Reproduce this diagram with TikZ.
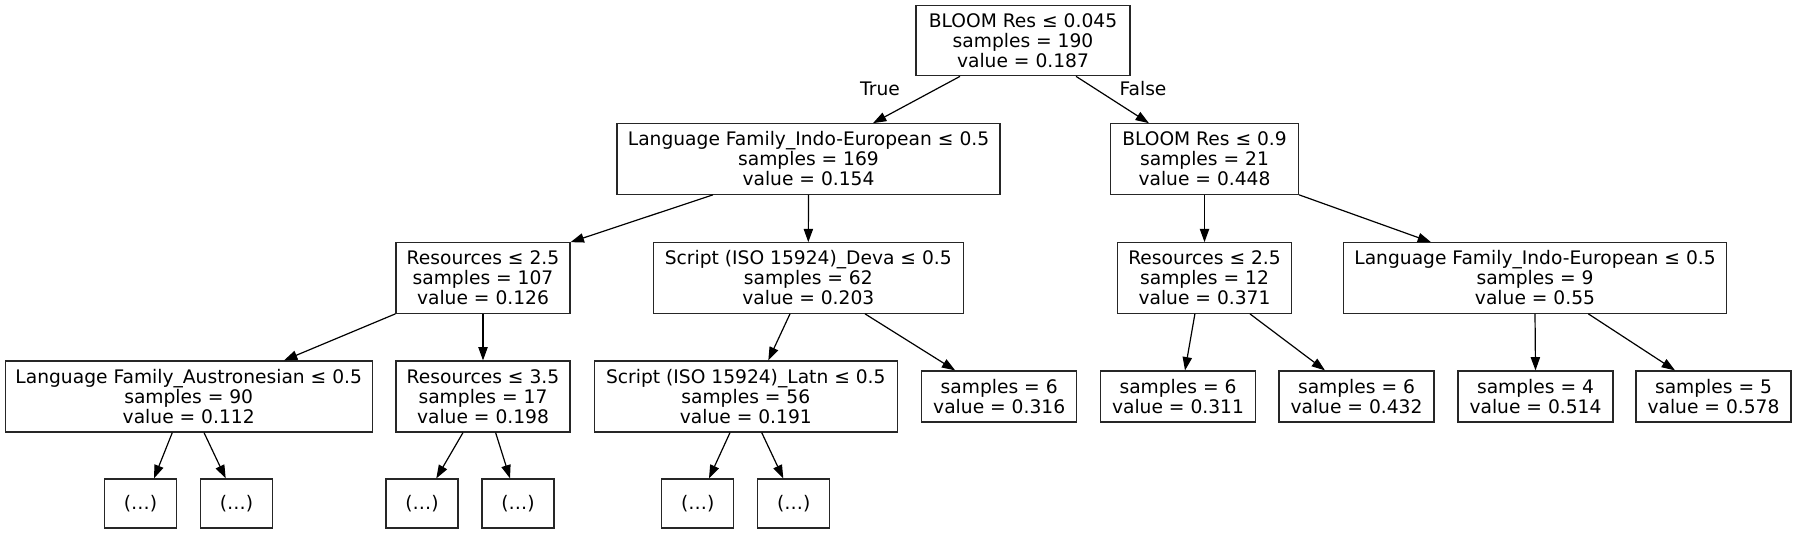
\documentclass[tikz,border=0pt]{standalone}
\usepackage{fontspec}
\setmainfont{DejaVu Sans}
\usetikzlibrary{arrows.meta,calc}
\begin{document}
\begin{tikzpicture}[x=0.75pt,y=-0.75pt,
  every node/.style={font=\fontsize{14pt}{15pt}\selectfont},
  box/.style={draw=black!85,line width=0.9pt,fill=white,rectangle,inner sep=0pt,align=center},
  b3/.style={box,minimum height=70.5*0.75pt},
  b2/.style={box,minimum height=51*0.75pt,minimum width=155*0.75pt},
  b1/.style={box,minimum height=49*0.75pt,minimum width=72*0.75pt},
  lbl/.style={inner sep=0pt},
  arr/.style={draw=black,line width=0.9pt,-{Triangle[length=10pt,width=7pt]}}]
\path[fill=white,use as bounding box] (0,0) rectangle (1797,533);
% level 0
\node[b3,minimum width=214*0.75pt] (root) at (1023,40.5) {BLOOM Res ≤ 0.045\\samples = 190\\value = 0.187};
% level 1
\node[b3,minimum width=383*0.75pt] (L1) at (808.5,159) {Language Family\_Indo-European ≤ 0.5\\samples = 169\\value = 0.154};
\node[b3,minimum width=188*0.75pt] (R1) at (1204.5,159) {BLOOM Res ≤ 0.9\\samples = 21\\value = 0.448};
% level 2
\node[b3,minimum width=174*0.75pt] (L2a) at (483,278) {Resources ≤ 2.5\\samples = 107\\value = 0.126};
\node[b3,minimum width=310*0.75pt] (L2b) at (808.3,278) {Script (ISO 15924)\_Deva ≤ 0.5\\samples = 62\\value = 0.203};
\node[b3,minimum width=174*0.75pt] (R2a) at (1204.5,278) {Resources ≤ 2.5\\samples = 12\\value = 0.371};
\node[b3,minimum width=383*0.75pt] (R2b) at (1535,278) {Language Family\_Indo-European ≤ 0.5\\samples = 9\\value = 0.55};
% level 3
\node[b3,minimum width=367*0.75pt,minimum height=71*0.75pt] (L3a) at (188.7,396.5) {Language Family\_Austronesian ≤ 0.5\\samples = 90\\value = 0.112};
\node[b3,minimum width=174*0.75pt,minimum height=71*0.75pt] (L3b) at (483,396.5) {Resources ≤ 3.5\\samples = 17\\value = 0.198};
\node[b3,minimum width=303*0.75pt,minimum height=71*0.75pt] (L3c) at (745.8,396.5) {Script (ISO 15924)\_Latn ≤ 0.5\\samples = 56\\value = 0.191};
\node[b2] (L3d) at (999.2,396.5) {samples = 6\\value = 0.316};
\node[b2] (R3a) at (1178,396.5) {samples = 6\\value = 0.311};
\node[b2] (R3b) at (1356.5,396.5) {samples = 6\\value = 0.432};
\node[b2] (R3c) at (1535.5,396.5) {samples = 4\\value = 0.514};
\node[b2] (R3d) at (1713.5,396.5) {samples = 5\\value = 0.578};
% level 4
\node[b1] (e1) at (140.5,503.5) {(…)};
\node[b1] (e2) at (236.5,503.5) {(…)};
\node[b1] (e3) at (422,503.5) {(…)};
\node[b1] (e4) at (518,503.5) {(…)};
\node[b1] (e5) at (697.8,503.5) {(…)};
\node[b1] (e6) at (793.7,503.5) {(…)};
% labels
\node[lbl] (tlab) at (880,89) {True};
\node[lbl] (flab) at (1143,89) {False};
% edges
\draw[arr] ($(root.south)+(-63,0)$) -- ($(L1.north)+(64.5,0)$);
\draw[arr] ($(root.south)+(53,0)$) -- ($(R1.north)+(-55.6,0)$);
\draw[arr] ($(L1.south)+(-95.5,0)$) -- (L2a.north east);
\draw[arr] (L1.south) -- (L2b.north);
\draw[arr] (R1.south) -- (R2a.north);
\draw[arr] (R1.south east) -- ($(R2b.north)+(-104,0)$);
\draw[arr] (L2a.south west) -- ($(L3a.north)+(95.3,0)$);
\draw[arr] (L2a.south) -- (L3b.north);
\draw[arr] ($(L2b.south)+(-18.3,0)$) -- ($(L3c.north)+(22.5,0)$);
\draw[arr] ($(L2b.south)+(56.7,0)$) -- ($(L3d.north)+(-44,0)$);
\draw[arr] ($(R2a.south)+(-9.6,0)$) -- ($(R3a.north)+(7,0)$);
\draw[arr] ($(R2a.south)+(45.4,0)$) -- ($(R3b.north)+(-31.5,0)$);
\draw[arr] (R2b.south) -- (R3c.north);
\draw[arr] ($(R2b.south)+(53.3,0)$) -- ($(R3d.north)+(-38.5,0)$);
\draw[arr] ($(L3a.south)+(-16.4,0)$) -- ($(e1.north)+(13.5,0)$);
\draw[arr] ($(L3a.south)+(15.3,0)$) -- ($(e2.north)+(-10.8,0)$);
\draw[arr] ($(L3b.south)+(-20,0)$) -- ($(e3.north)+(14.3,0)$);
\draw[arr] ($(L3b.south)+(12.6,0)$) -- ($(e4.north)+(-8,0)$);
\draw[arr] ($(L3c.south)+(-15.8,0)$) -- ($(e5.north)+(11.2,0)$);
\draw[arr] ($(L3c.south)+(15.9,0)$) -- ($(e6.north)+(-10.4,0)$);
\end{tikzpicture}
\end{document}
